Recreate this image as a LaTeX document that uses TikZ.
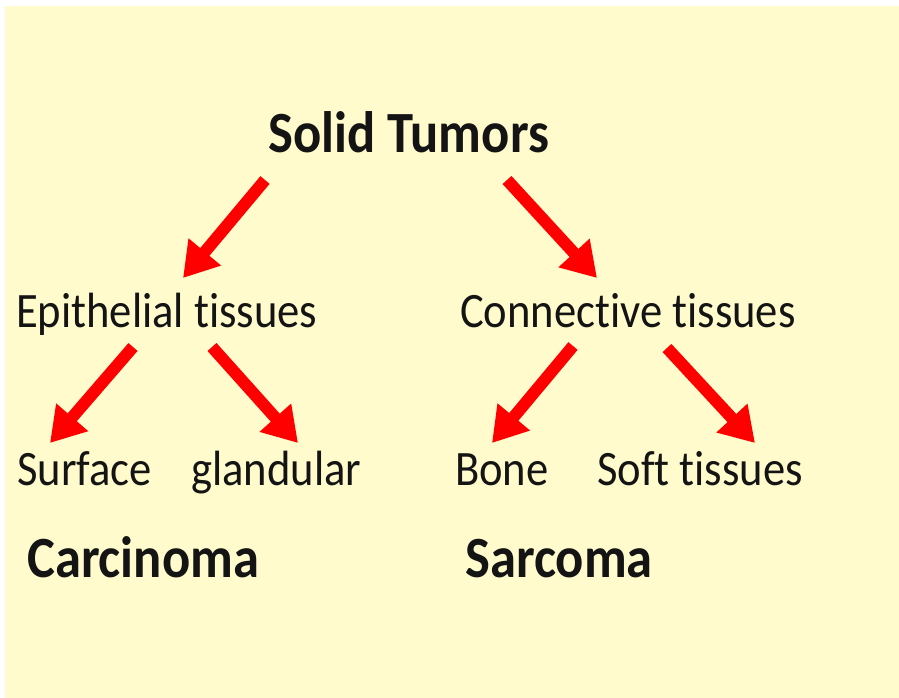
\documentclass[tikz,border=0pt]{standalone}
\usepackage{fontspec}
\setmainfont[Ligatures=NoCommon]{Carlito}
\usetikzlibrary{arrows.meta}
\definecolor{cream}{RGB}{255,251,204}
\definecolor{ink}{RGB}{20,20,20}
\tikzset{
  lbl/.style={anchor=base west, inner sep=0pt, text=ink, yscale=1.11, transform shape, font=\fontsize{44.6}{50}\selectfont},
  big/.style={lbl, font=\fontsize{52.6}{58}\selectfont\bfseries},
  redarrow/.style={draw=red, line width=12pt, -{Triangle[length=34pt,width=40pt]}}
}
\begin{document}
\begin{tikzpicture}[x=1pt,y=-1pt]
\useasboundingbox (0,0) rectangle (899,698);
\fill[white] (0,0) rectangle (899,698);
\fill[cream] (5,6) rectangle (899,698);
% texts
\node[big] (solid) at (268,153) {Solid Tumors};
\node[lbl] (epi) at (16,327) {Epithelial tissues};
\node[lbl] (conn) at (460,327) {Connective tissues};
\node[lbl] (surf) at (17,485) {Surface};
\node[lbl] (gland) at (191,485) {glandular};
\node[lbl] (bone) at (455,485) {Bone};
\node[lbl] (soft) at (597,485) {Soft tissues};
\node[big] (carc) at (27,577) {Carcinoma};
\node[big] (sarc) at (465,577) {Sarcoma};
% arrow endpoints
\coordinate (s1) at (265,180); \coordinate (t1) at (183,278);
\coordinate (s2) at (507,180); \coordinate (t2) at (597,278);
\coordinate (s3) at (133,347); \coordinate (t3) at (50,443);
\coordinate (s4) at (212,347); \coordinate (t4) at (298,443);
\coordinate (s5) at (573,346); \coordinate (t5) at (492,443);
\coordinate (s6) at (667,348); \coordinate (t6) at (755,443);
\draw[redarrow] (s1) -- (t1);
\draw[redarrow] (s2) -- (t2);
\draw[redarrow] (s3) -- (t3);
\draw[redarrow] (s4) -- (t4);
\draw[redarrow] (s5) -- (t5);
\draw[redarrow] (s6) -- (t6);
\end{tikzpicture}
\end{document}
